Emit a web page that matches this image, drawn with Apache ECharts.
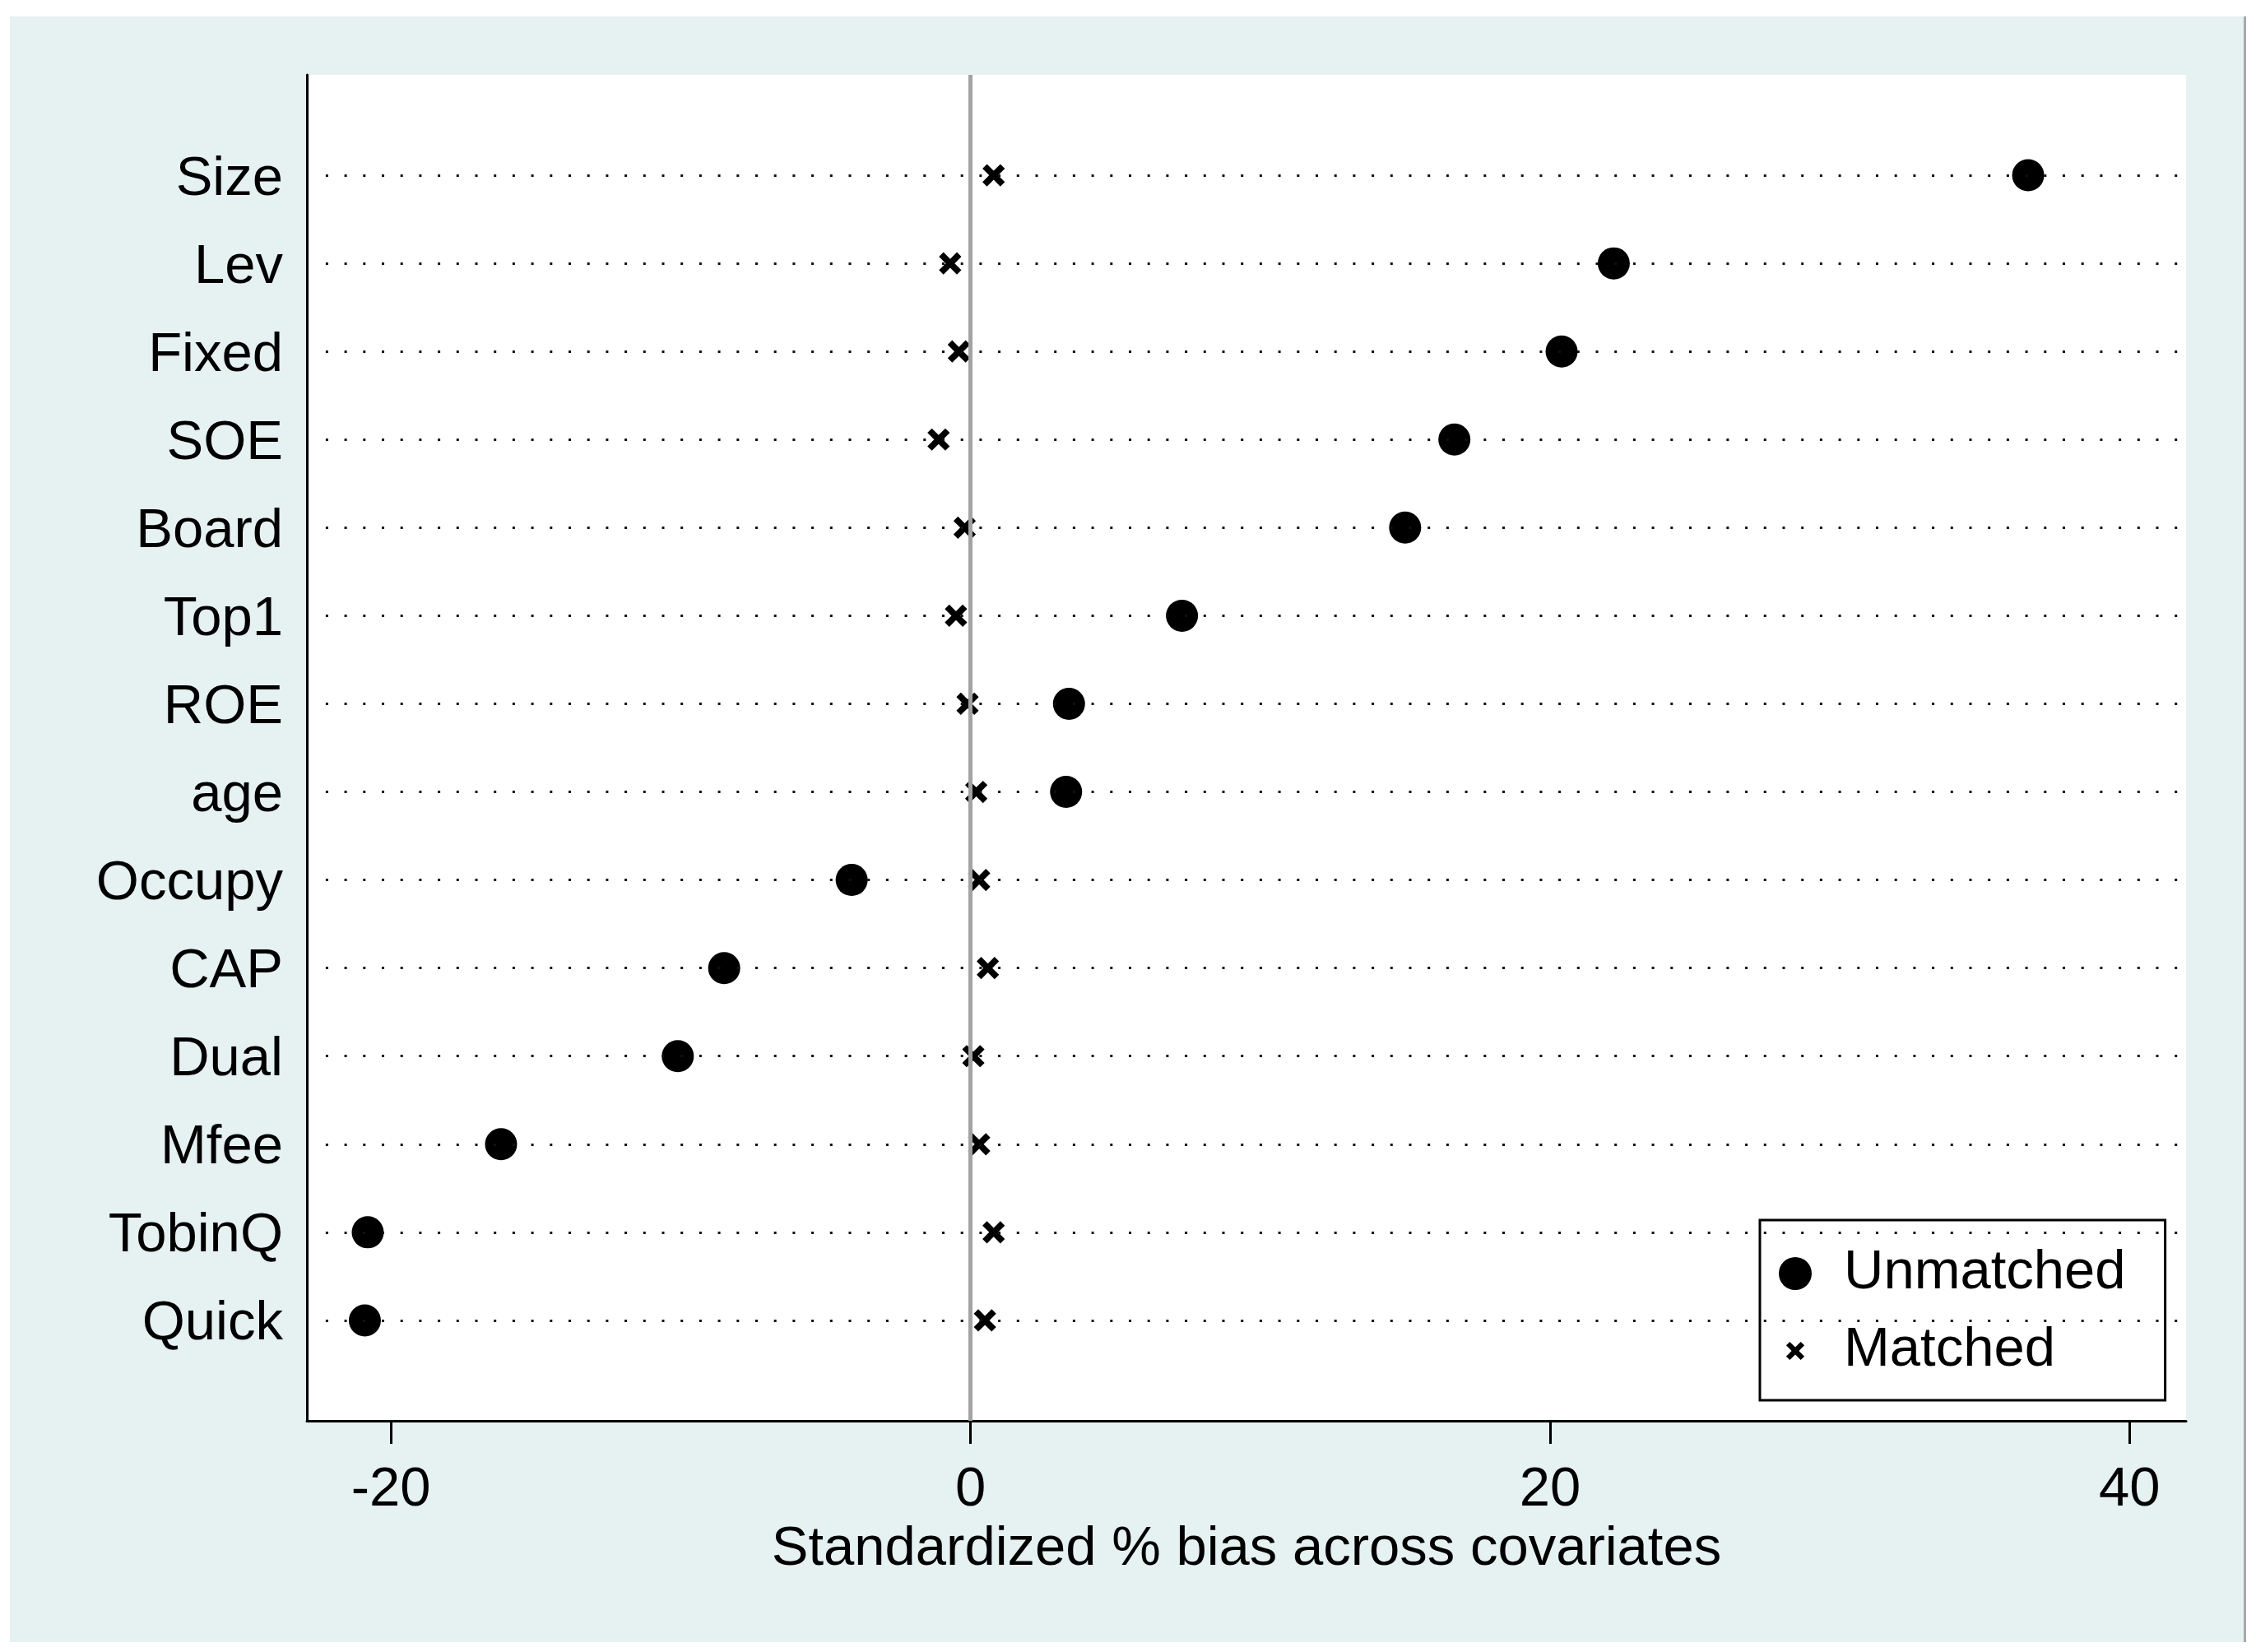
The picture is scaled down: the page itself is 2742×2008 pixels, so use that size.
<!DOCTYPE html>
<html>
<head>
<meta charset="utf-8">
<title>Standardized % bias across covariates</title>
<script src="https://cdn.jsdelivr.net/npm/echarts@6/dist/echarts.min.js"></script>
<style>
    html, body { margin: 0; padding: 0; background: #ffffff; }
    #frame {
        position: absolute; left: 12px; top: 20px;
        width: 2715px; height: 1976px;
        background: #e6f1f1;
        border-right: 3px solid #a8a8a8;
    }
    #chart { position: absolute; left: 0; top: 0; width: 2742px; height: 2008px; }
</style>
</head>
<body>
<div id="frame"></div>
<div id="chart"></div>
<script>
// Covariates, top to bottom
const categories = ['Size', 'Lev', 'Fixed', 'SOE', 'Board', 'Top1', 'ROE', 'age',
    'Occupy', 'CAP', 'Dual', 'Mfee', 'TobinQ', 'Quick'];

// Standardized % bias before matching
const unmatched = [36.5, 22.2, 20.4, 16.7, 15.0, 7.3, 3.4, 3.3,
    -4.1, -8.5, -10.1, -16.2, -20.8, -20.9];

// Standardized % bias after matching
const matched = [0.8, -0.7, -0.4, -1.1, -0.2, -0.5, -0.1, 0.2,
    0.3, 0.6, 0.1, 0.3, 0.8, 0.5];

const xTicks = [-20, 0, 20, 40];

const X_MIN = -22.9;
const X_MAX = 41.95;
const DOT_START = -22.25;

const FONT = '"Liberation Sans", Arial, sans-serif';

// filled "x" marker, the lone move-tos pad the box so the legend icon stays small
const crossPath = 'path://M-4,-4M14,14M0,2L2,0L5,3L8,0L10,2L7,5L10,8L8,10L5,7L2,10L0,8L3,5Z';

let chart;

function setupChart() {
    chart = echarts.init(document.getElementById('chart'), null, { renderer: 'canvas' });

    const rows = categories.map((c, i) => i);

    const guideLines = categories.map((c, i) => [
        { coord: [DOT_START, i] },
        { coord: [X_MAX, i] }
    ]);

    const option = {
        animation: false,
        backgroundColor: 'transparent',
        textStyle: { fontFamily: FONT },
        grid: {
            left: 373, top: 91, width: 2284, height: 1636,
            show: true, backgroundColor: '#ffffff', borderWidth: 0
        },
        legend: {
            data: ['Unmatched', 'Matched'],
            orient: 'vertical',
            left: 2139, top: 1483,
            backgroundColor: '#ffffff',
            borderColor: '#000000',
            borderWidth: 3,
            padding: [30, 48, 25, 23],
            itemWidth: 40,
            itemHeight: 40,
            itemGap: 24,
            selectedMode: false,
            textStyle: {
                fontFamily: FONT, fontSize: 67, color: '#000000',
                lineHeight: 70, padding: [0, 0, 0, 34]
            }
        },
        xAxis: {
            type: 'value',
            min: X_MIN,
            max: X_MAX,
            name: 'Standardized % bias across covariates',
            nameLocation: 'middle',
            nameGap: 120,
            nameTextStyle: { fontFamily: FONT, fontSize: 67, color: '#000000' },
            axisLine: { show: true, onZero: false, lineStyle: { color: '#000000', width: 3 } },
            axisTick: {
                show: true, length: 28, customValues: xTicks,
                lineStyle: { color: '#000000', width: 3 }
            },
            axisLabel: {
                customValues: xTicks, margin: 51,
                fontFamily: FONT, fontSize: 67, color: '#000000'
            },
            splitLine: { show: false }
        },
        yAxis: {
            type: 'value',
            inverse: true,
            min: -1.14,
            max: 14.14,
            axisLine: { show: true, onZero: false, lineStyle: { color: '#000000', width: 3 } },
            axisTick: { show: false },
            axisLabel: {
                customValues: rows,
                formatter: v => '{c|' + categories[Math.round(v)] + '}',
                margin: 29,
                rich: {
                    c: {
                        fontFamily: FONT, fontSize: 67, color: '#000000',
                        lineHeight: 67, padding: [10, 0, 0, 0]
                    }
                }
            },
            splitLine: { show: false }
        },
        series: [
            {
                // dotted row guides and the zero reference line
                name: 'guides',
                type: 'line',
                data: [],
                z: 1,
                silent: true,
                markLine: {
                    silent: true,
                    symbol: 'none',
                    label: { show: false },
                    lineStyle: { color: '#111111', width: 3, type: [3, 19.7] },
                    data: guideLines.concat([
                        { xAxis: 0, lineStyle: { color: '#a3a3a3', width: 5, type: 'solid' } }
                    ])
                }
            },
            {
                name: 'Unmatched',
                type: 'scatter',
                z: 3,
                symbol: 'circle',
                symbolSize: 39,
                itemStyle: { color: '#000000', opacity: 1 },
                data: unmatched.map((v, i) => [v, i])
            },
            {
                name: 'Matched',
                type: 'scatter',
                z: 4,
                symbol: crossPath,
                symbolSize: 49,
                itemStyle: { color: '#000000', opacity: 1 },
                data: matched.map((v, i) => [v, i])
            }
        ]
    };

    chart.setOption(option);
}

setupChart();

window.addEventListener('resize', () => {
    chart?.resize();
});
</script>
</body>
</html>
